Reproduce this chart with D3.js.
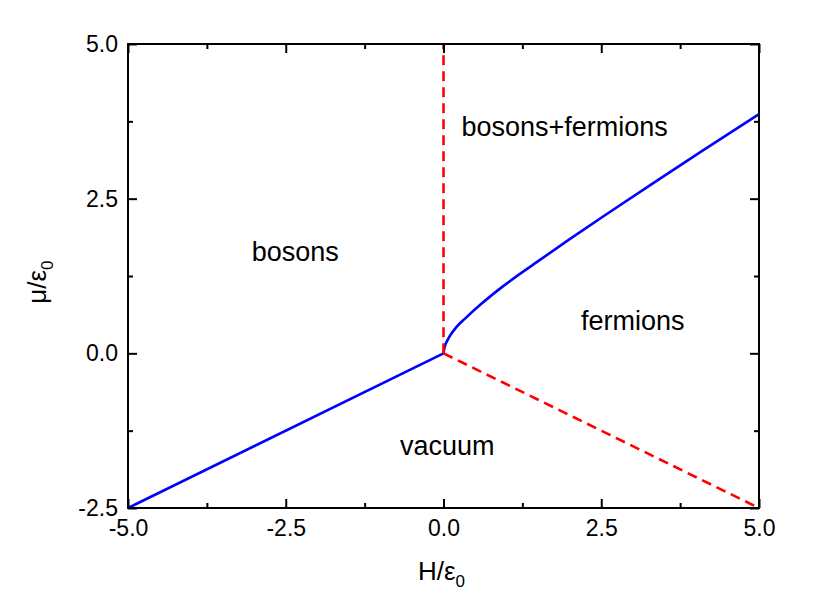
<!DOCTYPE html>
<html><head><meta charset="utf-8">
<script src="https://cdn.jsdelivr.net/npm/d3@7"></script>
<style>body{margin:0;background:#fff}text{font-family:"Liberation Sans",Arial,sans-serif;fill:#000}</style>
</head><body>
<svg id="c" width="830" height="593"></svg>
<script>
// Data
const xMajorTicks = [-5.0, -2.5, 0.0, 2.5, 5.0];
const yMajorTicks = [-2.5, 0.0, 2.5, 5.0];
const xMinorTicks = [-3.75, -1.25, 1.25, 3.75];
const yMinorTicks = [-1.25, 1.25, 3.75];
// boson/vacuum boundary (solid blue, H<0)
const bosonVacuumH = [-5.0, 0.0];
const bosonVacuumMu = [-2.5, 0.0];
// fermion/bosons+fermions boundary (solid blue, H>0)
const fermionH  = [0.0, 0.02, 0.05, 0.1, 0.2, 0.35, 0.6, 0.9, 1.5, 2.0, 2.6, 3.3, 4.1, 5.0];
const fermionMu = [0.0, 0.11, 0.185, 0.28, 0.42, 0.57, 0.8, 1.05, 1.49, 1.845, 2.26, 2.736, 3.272, 3.866];
// dashed red boundaries
const verticalH = [0.0, 0.0];
const verticalMu = [0.0, 5.0];
const fermVacH = [0.0, 5.0];
const fermVacMu = [0.0, -2.5];
const regionLabels = ["bosons", "bosons+fermions", "fermions", "vacuum"];
const regionH  = [-2.35, 1.92, 3.0, 0.06];
const regionMu = [1.5, 3.52, 0.37, -1.65];

const svg = d3.select("#c");
const L = 128, R = 759, T = 44, B = 508;
const x = d3.scaleLinear().domain([-5, 5]).range([L, R]);
const y = d3.scaleLinear().domain([-2.5, 5]).range([B, T]);

const line = d3.line().x(d => x(d[0])).y(d => y(d[1]));
const zip = (a, b) => a.map((v, i) => [v, b[i]]);

const g = svg.append("g");
g.append("path").datum(zip(bosonVacuumH, bosonVacuumMu)).attr("d", line)
  .attr("fill", "none").attr("stroke", "#0000ff").attr("stroke-width", 2.6);
g.append("path").datum(zip(fermionH, fermionMu)).attr("d", d3.line().curve(d3.curveMonotoneX).x(d => x(d[0])).y(d => y(d[1])))
  .attr("fill", "none").attr("stroke", "#0000ff").attr("stroke-width", 2.6);
g.append("path").datum(zip(verticalH, verticalMu)).attr("d", line)
  .attr("fill", "none").attr("stroke", "#ff0000").attr("stroke-width", 2.6).attr("stroke-dasharray", "10,6");
g.append("path").datum(zip(fermVacH, fermVacMu)).attr("d", line)
  .attr("fill", "none").attr("stroke", "#ff0000").attr("stroke-width", 2.6).attr("stroke-dasharray", "10,6");

// Axes
const ax = svg.append("g");
function axis(gen, transform, ticks, size) {
  const a = ax.append("g").attr("transform", transform)
    .call(gen.tickValues(ticks).tickSizeInner(size).tickSizeOuter(0));
  a.select(".domain").remove();
  a.selectAll("line").attr("stroke", "#000").attr("stroke-width", 2);
  return a;
}
const fmt = v => d3.format(".1f")(v).replace("−", "-");
const xb = axis(d3.axisBottom(x).tickFormat(fmt), `translate(0,${B})`, xMajorTicks, -9);
xb.selectAll("text").attr("y", 12).attr("dy", "0.71em").style("font-size", "23px").style("font-family", "Liberation Sans, Arial").attr("fill", "#000");
axis(d3.axisBottom(x).tickFormat(""), `translate(0,${B})`, xMinorTicks, -5);
axis(d3.axisTop(x).tickFormat(""), `translate(0,${T})`, xMajorTicks, -9);
axis(d3.axisTop(x).tickFormat(""), `translate(0,${T})`, xMinorTicks, -5);
const yl = axis(d3.axisLeft(y).tickFormat(fmt), `translate(${L},0)`, yMajorTicks, -9);
yl.selectAll("text").attr("x", -10).style("font-size", "23px").style("font-family", "Liberation Sans, Arial").attr("fill", "#000");
axis(d3.axisLeft(y).tickFormat(""), `translate(${L},0)`, yMinorTicks, -5);
axis(d3.axisRight(y).tickFormat(""), `translate(${R},0)`, yMajorTicks, -9);
axis(d3.axisRight(y).tickFormat(""), `translate(${R},0)`, yMinorTicks, -5);

ax.append("rect").attr("x", L).attr("y", T).attr("width", R - L).attr("height", B - T)
  .attr("fill", "none").attr("stroke", "#000").attr("stroke-width", 2);

// Region labels
svg.selectAll("text.region").data(regionLabels).enter().append("text")
  .attr("class", "region")
  .attr("x", (d, i) => x(regionH[i])).attr("y", (d, i) => y(regionMu[i]))
  .attr("text-anchor", "middle").style("font-size", "27px").text(d => d);

// Axis titles
const xt = svg.append("text").attr("x", x(0) - 2).attr("y", 580).attr("text-anchor", "middle").style("font-size", "26px");
xt.append("tspan").text("H/ε");
xt.append("tspan").attr("dy", 7).style("font-size", "17px").text("0");
const yt = svg.append("text").attr("transform", `translate(46,${y(1.15)}) rotate(-90)`).attr("text-anchor", "middle").style("font-size", "26px");
yt.append("tspan").text("μ/ε");
yt.append("tspan").attr("dy", 7).style("font-size", "17px").text("0");
</script>
</body></html>
